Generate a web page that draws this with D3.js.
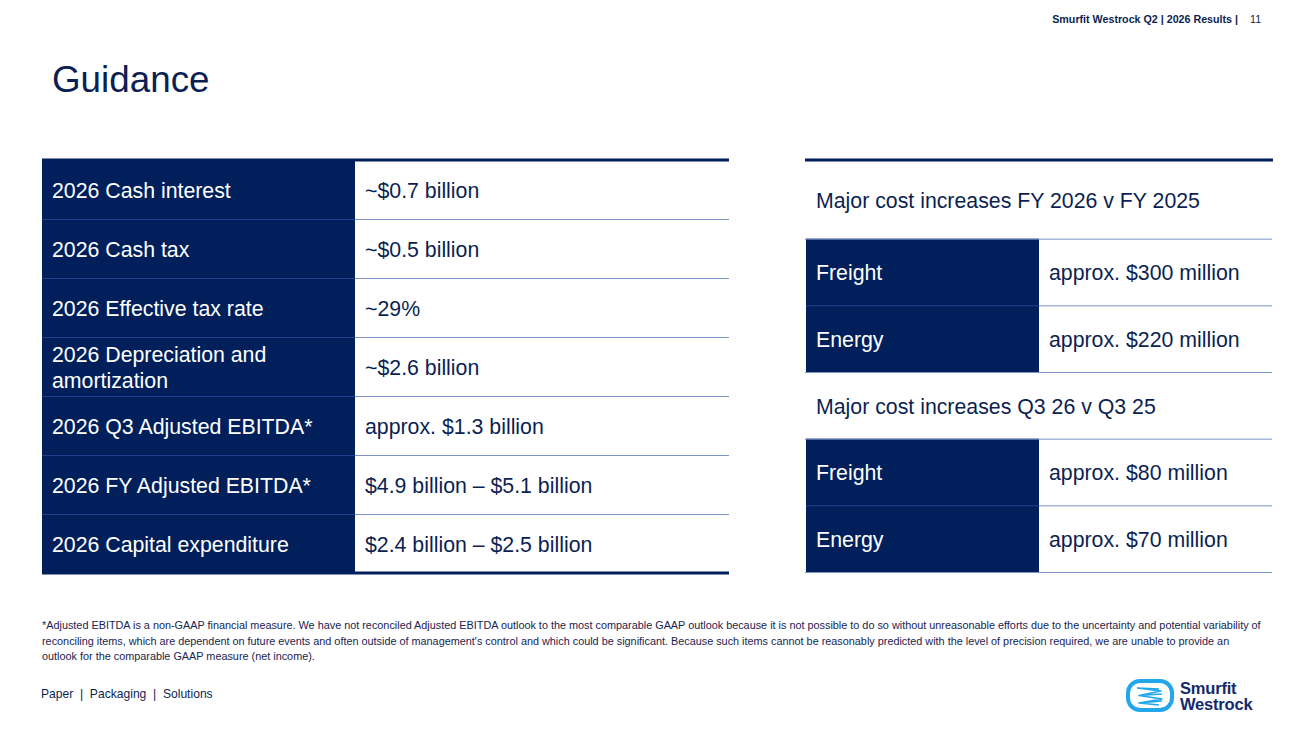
<!DOCTYPE html>
<html>
<head>
<meta charset="utf-8">
<script src="https://cdn.jsdelivr.net/npm/d3@7"></script>
<style>
  html, body { margin: 0; padding: 0; background: #fff; }
  svg { display: block; font-family: "Liberation Sans", Arial, Helvetica, sans-serif; }
</style>
</head>
<body>
<script>
// guidance table (left)
var guideLabels = ["2026 Cash interest", "2026 Cash tax", "2026 Effective tax rate",
    "2026 Depreciation and\namortization", "2026 Q3 Adjusted EBITDA*",
    "2026 FY Adjusted EBITDA*", "2026 Capital expenditure"];
var guideValues = ["~$0.7 billion", "~$0.5 billion", "~29%", "~$2.6 billion",
    "approx. $1.3 billion", "$4.9 billion \u2013 $5.1 billion", "$2.4 billion \u2013 $2.5 billion"];

// cost increase tables (right)
var fyHeader = "Major cost increases FY 2026 v FY 2025";
var fyCategories = ["Freight", "Energy"];
var fyValues = ["approx. $300 million", "approx. $220 million"];
var q3Header = "Major cost increases Q3 26 v Q3 25";
var q3Categories = ["Freight", "Energy"];
var q3Values = ["approx. $80 million", "approx. $70 million"];

var footnote = [
    "*Adjusted EBITDA is a non-GAAP financial measure. We have not reconciled Adjusted EBITDA outlook to the most comparable GAAP outlook because it is not possible to do so without unreasonable efforts due to the uncertainty and potential variability of",
    "reconciling items, which are dependent on future events and often outside of management's control and which could be significant. Because such items cannot be reasonably predicted with the level of precision required, we are unable to provide an",
    "outlook for the comparable GAAP measure (net income)."
];

var w = 1300, h = 731;
var navy = "#011f5b";
var textNavy = "#0c1f52";
var lineBlue = "#7a93c8";
var innerLine = "#213f8c";

var svg = d3.select("body").append("svg")
    .attr("width", w)
    .attr("height", h);

// header
svg.append("text")
    .attr("x", 1238).attr("y", 23)
    .attr("text-anchor", "end")
    .style("font-size", "10.7px").style("font-weight", "bold")
    .style("fill", textNavy)
    .text("Smurfit Westrock Q2 | 2026 Results |");
svg.append("text")
    .attr("x", 1250).attr("y", 23)
    .style("font-size", "10.7px")
    .style("fill", textNavy)
    .text("11");

svg.append("text")
    .attr("x", 52).attr("y", 92)
    .style("font-size", "36.8px")
    .style("fill", textNavy)
    .text("Guidance");

// ---- left table
var left = svg.append("g");
var y = d3.scaleBand().domain(d3.range(guideLabels.length)).range([160, 573]);
var colX = d3.scalePoint().domain(["label", "value", "end"]).range([42, 729]);
var splitX = 355;

left.selectAll("rect.lab")
    .data(guideLabels)
    .enter().append("rect")
    .attr("class", "lab")
    .attr("x", colX("label"))
    .attr("y", function(d, i) { return y(i); })
    .attr("width", splitX - colX("label"))
    .attr("height", y.bandwidth() + 0.5)
    .style("fill", navy);

// row separators
left.selectAll("line.sepW")
    .data(d3.range(1, guideLabels.length))
    .enter().append("line")
    .attr("x1", splitX).attr("x2", colX("end"))
    .attr("y1", function(i) { return y(i) + 0.5; })
    .attr("y2", function(i) { return y(i) + 0.5; })
    .style("stroke", lineBlue).style("stroke-width", 1);
left.selectAll("line.sepD")
    .data(d3.range(1, guideLabels.length))
    .enter().append("line")
    .attr("x1", colX("label")).attr("x2", splitX)
    .attr("y1", function(i) { return y(i) + 0.5; })
    .attr("y2", function(i) { return y(i) + 0.5; })
    .style("stroke", innerLine).style("stroke-width", 1);

left.append("line")
    .attr("x1", colX("label")).attr("x2", colX("end"))
    .attr("y1", 160).attr("y2", 160)
    .style("stroke", navy).style("stroke-width", 3);
left.append("line")
    .attr("x1", colX("label")).attr("x2", colX("end"))
    .attr("y1", 573).attr("y2", 573)
    .style("stroke", navy).style("stroke-width", 3);

left.selectAll("text.lab")
    .data(guideLabels)
    .enter().append("text")
    .attr("class", "lab")
    .attr("x", colX("label") + 10)
    .attr("y", function(d, i) { return y(i) + y.bandwidth() / 2 + 1; })
    .style("font-size", "21.3px")
    .style("fill", "#fff")
    .each(function(d) {
        var lines = d.split("\n");
        var t = d3.select(this);
        lines.forEach(function(l, k) {
            t.append("tspan")
                .attr("x", colX("label") + 10)
                .attr("dy", k === 0 ? (0.35 - (lines.length - 1) * 0.6) + "em" : "1.2em")
                .text(l);
        });
    });

left.selectAll("text.val")
    .data(guideValues)
    .enter().append("text")
    .attr("class", "val")
    .attr("x", splitX + 10)
    .attr("y", function(d, i) { return y(i) + y.bandwidth() / 2 + 1; })
    .attr("dy", "0.35em")
    .style("font-size", "21.3px")
    .style("fill", textNavy)
    .text(function(d) { return d; });

// ---- right tables
var right = svg.append("g");
var rows = [];
[[fyHeader, fyCategories, fyValues], [q3Header, q3Categories, q3Values]].forEach(function(s) {
    rows.push({ header: true, label: s[0] });
    s[1].forEach(function(c, i) { rows.push({ header: false, label: c, value: s[2][i] }); });
});

var ry = d3.scaleBand().domain(d3.range(rows.length)).range([172, 572]);
var rx = d3.scaleLinear().domain([0, 1]).range([805, 1273]);
var rSplit = 1039;

right.selectAll("rect.cat")
    .data(rows.filter(function(r) { return !r.header; }))
    .enter().append("rect")
    .attr("class", "cat")
    .attr("x", rx(0) + 1)
    .attr("y", function(d) { return ry(rows.indexOf(d)); })
    .attr("width", rSplit - rx(0) - 1)
    .attr("height", ry.bandwidth() + 0.5)
    .style("fill", navy);

right.selectAll("line.sep")
    .data(d3.range(1, rows.length + 1))
    .enter().append("line")
    .attr("x1", function(i) { return (i < rows.length && !rows[i].header && !rows[i - 1].header) ? rSplit : rx(0); })
    .attr("x2", rx(1) - 1)
    .attr("y1", function(i) { return (i < rows.length ? ry(i) : ry.range()[1]) + 0.5; })
    .attr("y2", function(i) { return (i < rows.length ? ry(i) : ry.range()[1]) + 0.5; })
    .style("stroke", lineBlue).style("stroke-width", 1);

right.selectAll("line.sepD")
    .data(d3.range(1, rows.length).filter(function(i) { return !rows[i].header && !rows[i - 1].header; }))
    .enter().append("line")
    .attr("x1", rx(0) + 1).attr("x2", rSplit)
    .attr("y1", function(i) { return ry(i) + 0.5; })
    .attr("y2", function(i) { return ry(i) + 0.5; })
    .style("stroke", innerLine).style("stroke-width", 1);

right.append("line")
    .attr("x1", rx(0)).attr("x2", rx(1))
    .attr("y1", 160).attr("y2", 160)
    .style("stroke", navy).style("stroke-width", 3);

right.selectAll("text.rl")
    .data(rows)
    .enter().append("text")
    .attr("class", "rl")
    .attr("x", rx(0) + 11)
    .attr("y", function(d, i) {
        var top = i === 0 ? 161 : ry(i);
        return (top + ry(i) + ry.bandwidth()) / 2 + 1;
    })
    .attr("dy", "0.35em")
    .style("font-size", "21.3px")
    .style("fill", function(d) { return d.header ? textNavy : "#fff"; })
    .text(function(d) { return d.label; });

right.selectAll("text.rv")
    .data(rows.filter(function(r) { return !r.header; }))
    .enter().append("text")
    .attr("class", "rv")
    .attr("x", rSplit + 10)
    .attr("y", function(d) { return ry(rows.indexOf(d)) + ry.bandwidth() / 2 + 1; })
    .attr("dy", "0.35em")
    .style("font-size", "21.3px")
    .style("fill", textNavy)
    .text(function(d) { return d.value; });

// footnote
svg.append("g").selectAll("text")
    .data(footnote)
    .enter().append("text")
    .attr("x", 42)
    .attr("y", function(d, i) { return 629 + i * 15.5; })
    .style("font-size", "10.85px")
    .style("fill", "#1a2450")
    .text(function(d) { return d; });

// footer
svg.append("text")
    .attr("x", 41).attr("y", 698)
    .style("font-size", "12.1px")
    .style("fill", textNavy)
    .attr("xml:space", "preserve")
    .text("Paper  |  Packaging  |  Solutions");

// logo
var logo = svg.append("g").attr("transform", "translate(1126,679)");
logo.append("rect")
    .attr("x", 2).attr("y", 2).attr("width", 44).attr("height", 29).attr("rx", 12)
    .style("fill", "#fff").style("stroke", "#22a7ea").style("stroke-width", 4);
logo.append("path")
    .attr("d", "M11,9 L35,12 L13,16.5 L36,20 L13,24 L33,26 M11,9 L33,10 M13,16.5 L36,15 M13,24 L36,22")
    .style("fill", "none").style("stroke", "#22a7ea").style("stroke-width", 1.6)
    .style("stroke-linejoin", "round");
var logoText = logo.append("text")
    .style("font-size", "16.5px").style("font-weight", "bold")
    .style("letter-spacing", "-0.2px")
    .style("fill", "#142a6b");
logoText.append("tspan").attr("x", 54).attr("y", 15).text("Smurfit");
logoText.append("tspan").attr("x", 54).attr("y", 30.5).text("Westrock");
</script>
</body>
</html>
